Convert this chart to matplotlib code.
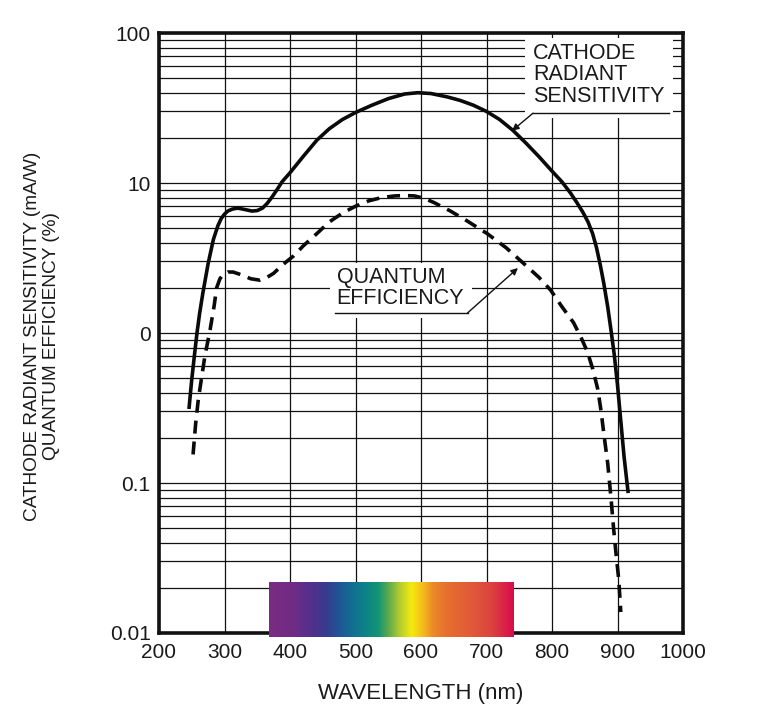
import matplotlib
matplotlib.use("Agg")
import matplotlib.pyplot as plt
import numpy as np
from matplotlib.ticker import FixedLocator, FixedFormatter, LogLocator, NullFormatter
from matplotlib.colors import LinearSegmentedColormap
from matplotlib.patches import Rectangle

plt.rcParams['font.family'] = ['Liberation Sans', 'DejaVu Sans']

# ---- data ----
sens_nm = [246, 250, 255, 258, 262, 267, 275, 283, 290, 295, 300, 305, 312, 320, 328,
           335, 342, 350, 358, 365, 372, 380, 388, 400, 420, 441, 460, 480, 500, 525,
           550, 575, 595, 615, 640, 660, 680, 700, 720, 740, 760, 780, 800, 815, 828,
           838, 847, 855, 862, 868, 874, 879, 885, 890, 895, 900, 905, 910, 916]
sens_val = [0.32, 0.49, 0.77, 1.0, 1.35, 1.85, 2.9, 4.2, 5.2, 5.8, 6.2, 6.5, 6.7, 6.8, 6.7,
            6.6, 6.5, 6.55, 6.8, 7.3, 8.0, 9.0, 10.2, 11.7, 15.0, 19.3, 23.0, 26.5, 29.5, 33.0,
            36.5, 39.2, 40.0, 39.5, 37.5, 35.5, 33.0, 30.0, 26.5, 22.5, 18.5, 15.0, 12.0, 10.2, 8.6,
            7.4, 6.4, 5.5, 4.6, 3.7, 2.8, 2.15, 1.5, 1.05, 0.72, 0.45, 0.26, 0.15, 0.088]

qe_nm = [252, 256, 260, 263, 270, 278, 284, 288, 293, 298, 305, 313, 325, 340,
         354, 365, 375, 385, 395, 405, 420, 441, 460, 480, 500, 520, 540, 560, 575,
         590, 605, 620, 645, 670, 701, 730, 757, 780, 798, 815, 833, 845, 854,
         862, 870, 875, 879, 885, 890, 894, 898, 902, 905]
qe_val = [0.155, 0.25, 0.36, 0.44, 0.7, 1.05, 1.5, 2.0, 2.3, 2.45, 2.55, 2.55, 2.45, 2.3,
          2.25, 2.35, 2.5, 2.75, 3.0, 3.25, 3.8, 4.6, 5.5, 6.3, 7.0, 7.6, 8.0, 8.2, 8.25,
          8.2, 7.9, 7.4, 6.5, 5.6, 4.6, 3.7, 2.9, 2.35, 1.93, 1.5, 1.17, 0.92, 0.75,
          0.58, 0.42, 0.3, 0.215, 0.136, 0.08, 0.05, 0.033, 0.0225, 0.0138]

x_ticks = [200, 300, 400, 500, 600, 700, 800, 900, 1000]
x_ticklabels = ['200', '300', '400', '500', '600', '700', '800', '900', '1000']
y_ticks = [0.01, 0.1, 1, 10, 100]
y_ticklabels = ['0.01', '0.1', '0', '10', '100']

spectrum_range = [368, 742]
spectrum_pos = [0.0, 0.098, 0.18, 0.234, 0.289, 0.343, 0.398, 0.445, 0.486,
                0.534, 0.582, 0.623, 0.670, 0.725, 0.834, 0.916, 1.0]
spectrum_cols = ['#7a2b82', '#702c86', '#4f318c', '#363b8e', '#1f5796', '#11708f',
                 '#0c8586', '#129476', '#58a94e', '#b3cc30', '#f4ea10', '#f5c21a',
                 '#ec8a28', '#e6702e', '#e0583a', '#dc4040', '#d80c4c']

# ---- figure ----
fig = plt.figure(figsize=(7.64, 7.21), dpi=100)
ax = fig.add_axes([159/764, 1-633/721, 524/764, 600/721])
ax.set_yscale('log')
ax.set_xlim(200, 1000)
ax.set_ylim(0.01, 100)

ax.xaxis.set_major_locator(FixedLocator(x_ticks))
ax.xaxis.set_major_formatter(FixedFormatter(x_ticklabels))
ax.yaxis.set_major_locator(FixedLocator(y_ticks))
ax.yaxis.set_major_formatter(FixedFormatter(y_ticklabels))
ax.yaxis.set_minor_locator(LogLocator(base=10, subs=np.arange(2, 10)))
ax.yaxis.set_minor_formatter(NullFormatter())

ax.set_axisbelow(True)
ax.grid(True, which='major', axis='both', color='#111111', lw=0.9)
ax.grid(True, which='minor', axis='y', color='#111111', lw=0.9)
ax.tick_params(which='both', length=0)
ax.tick_params(axis='x', labelsize=15, pad=7, colors='#1a1a1a')
ax.tick_params(axis='y', labelsize=15, pad=6, colors='#1a1a1a')
for s in ax.spines.values():
    s.set_linewidth(2.6)
    s.set_color('#111111')

# curves
ax.plot(sens_nm, sens_val, color='#0a0a0a', lw=2.6, zorder=3, solid_joinstyle='round')
ax.plot(qe_nm, qe_val, color='#0a0a0a', lw=2.6, zorder=3, dashes=(3.6, 2.2))

# annotation boxes (white background breaking grid)
ax.add_patch(Rectangle((759, 27.1), 984-759, 92.6-27.1, facecolor='white',
                       edgecolor='none', zorder=1))
ax.add_patch(Rectangle((461, 1.26), 678-461, 2.93-1.26, facecolor='white',
                       edgecolor='none', zorder=1))

ax.text(771, 52.5, 'CATHODE\nRADIANT\nSENSITIVITY', fontsize=15.5, ha='left',
        va='center', linespacing=1.02, color='#1a1a1a', zorder=2)
ax.plot([771, 978], [29.2, 29.2], color='#111111', lw=1.0, zorder=2)
ax.annotate('', xy=(739, 22.3), xytext=(771, 29.2),
            arrowprops=dict(arrowstyle='-|>', color='#111111', lw=1.0,
                            mutation_scale=10, shrinkA=0, shrinkB=0), zorder=2)

ax.text(471, 2.0, 'QUANTUM\nEFFICIENCY', fontsize=15.5, ha='left', va='center',
        linespacing=1.02, color='#1a1a1a', zorder=2)
ax.plot([469, 671], [1.36, 1.36], color='#111111', lw=1.0, zorder=2)
ax.annotate('', xy=(748, 2.71), xytext=(671, 1.36),
            arrowprops=dict(arrowstyle='-|>', color='#111111', lw=1.0,
                            mutation_scale=10, shrinkA=0, shrinkB=0), zorder=2)

# spectrum bar
cmap = LinearSegmentedColormap.from_list('spec', list(zip(spectrum_pos, spectrum_cols)))
x0 = (spectrum_range[0] - 200) / 800
w = (spectrum_range[1] - spectrum_range[0]) / 800
sax = ax.inset_axes([x0, -4/600, w, 55/600])
sax.imshow(np.linspace(0, 1, 512)[None, :], aspect='auto', cmap=cmap,
           extent=[0, 1, 0, 1])
sax.set_axis_off()
sax.set_zorder(5)

# labels
ax.set_xlabel('WAVELENGTH (nm)', fontsize=16, color='#1a1a1a')
ax.xaxis.set_label_coords(0.5, -0.083)
fig.text(42/764, 1-336/721, 'CATHODE RADIANT SENSITIVITY (mA/W)\nQUANTUM EFFICIENCY (%)',
         rotation=90, ha='center', va='center', multialignment='center',
         fontsize=13.7, linespacing=1.22, color='#1a1a1a')

fig.savefig('out.png', dpi=100)
